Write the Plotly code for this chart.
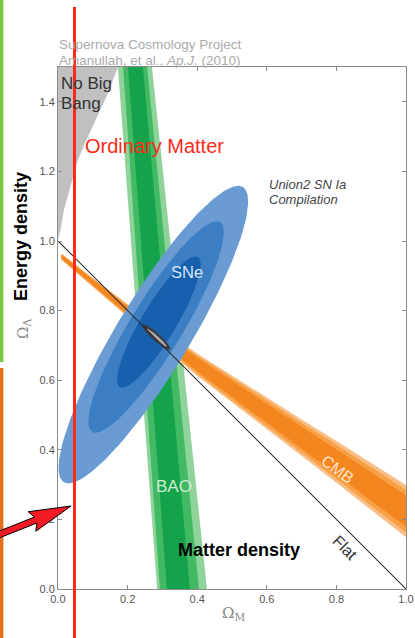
import numpy as np
import plotly.graph_objects as go

# ---------------- data ----------------
# "No Big Bang" boundary (Omega_M, Omega_Lambda)
nbb_om = [0.172, 0.144, 0.121, 0.098, 0.078, 0.057, 0.043, 0.029, 0.017, 0.009, 0.0]
nbb_ol = [1.5, 1.425, 1.376, 1.328, 1.282, 1.233, 1.184, 1.138, 1.089, 1.040, 1.003]

# BAO band edges (outer, middle, inner confidence levels)
bao_top_ol = 1.5
bao_bot_ol = 0.0
bao_top_left = [0.172, 0.187, 0.201]
bao_top_right = [0.270, 0.256, 0.244]
bao_bot_left = [0.285, 0.293, 0.313]
bao_bot_right = [0.428, 0.405, 0.379]
bao_colors = ["#8ED39A", "#42BA63", "#14A34B"]

# CMB band (centre line and vertical half-width of outer contour)
cmb_om = [0.01, 0.1, 0.2, 0.3, 0.4, 0.5, 0.6, 0.7, 0.8, 0.9, 1.0]
cmb_center = [0.955, 0.88, 0.80, 0.72, 0.645, 0.575, 0.505, 0.435, 0.365, 0.295, 0.224]
cmb_halfwidth = [0.009, 0.014, 0.019, 0.025, 0.032, 0.038, 0.045, 0.052, 0.060, 0.067, 0.075]
cmb_levels = [1.0, 0.82, 0.6]
cmb_colors = ["#F9BE86", "#F7A046", "#F4861F"]

# SNe confidence ellipses (outer, middle, inner)
sne_cx = [0.274, 0.282, 0.290]
sne_cy = [0.731, 0.753, 0.767]
sne_a = [0.496, 0.353, 0.218]
sne_b = [0.105, 0.075, 0.050]
sne_angle = [58.75, 58.6, 59.0]
sne_colors = ["#6A9BD2", "#3C7EC4", "#1660AE"]

# Combined constraint
comb_cx = [0.282, 0.284]
comb_cy = [0.724, 0.722]
comb_a = [0.054, 0.038]
comb_b = [0.011, 0.005]
comb_angle = [-42.0, -42.0]
comb_colors = ["#3A3A3A", "#ABABAB"]

# Flat universe line
flat_om = [0.0, 1.0]
flat_ol = [1.0, 0.0]

x_ticks = [0.0, 0.2, 0.4, 0.6, 0.8, 1.0]
y_ticks = [0.0, 0.2, 0.4, 0.6, 0.8, 1.0, 1.2, 1.4]

# ---------------- figure geometry ----------------
W, H = 415, 638
L, R, T, B = 58, 9, 67, 49
PW, PH = W - L - R, H - T - B


def px(x):
    return (x - L) / PW


def py(y):
    return (H - B - y) / PH


def ellipse(cx, cy, a, b, ang, n=240):
    t = np.linspace(0, 2 * np.pi, n)
    th = np.radians(ang)
    x = cx + a * np.cos(t) * np.cos(th) - b * np.sin(t) * np.sin(th)
    y = cy + a * np.cos(t) * np.sin(th) + b * np.sin(t) * np.cos(th)
    return x, y


fig = go.Figure()


def poly(x, y, color):
    fig.add_trace(go.Scatter(x=list(x), y=list(y), mode="lines", fill="toself",
                             fillcolor=color, line=dict(width=0, color=color),
                             hoverinfo="skip", showlegend=False))


# No big bang region
poly(nbb_om + [0.0], nbb_ol + [1.5], "#C0C0C0")

# BAO band
for i in range(3):
    poly([bao_top_left[i], bao_top_right[i], bao_bot_right[i], bao_bot_left[i]],
         [bao_top_ol, bao_top_ol, bao_bot_ol, bao_bot_ol], bao_colors[i])

# CMB band
cm = np.array(cmb_center)
hw = np.array(cmb_halfwidth)
for lev, col in zip(cmb_levels, cmb_colors):
    up = cm + lev * hw
    lo = cm - lev * hw
    poly(cmb_om + cmb_om[::-1], list(up) + list(lo[::-1]), col)

# SNe ellipses
for i in range(3):
    ex, ey = ellipse(sne_cx[i], sne_cy[i], sne_a[i], sne_b[i], sne_angle[i])
    poly(ex, ey, sne_colors[i])

# Combined
for i in range(2):
    ex, ey = ellipse(comb_cx[i], comb_cy[i], comb_a[i], comb_b[i], comb_angle[i])
    poly(ex, ey, comb_colors[i])

# Flat line
fig.add_trace(go.Scatter(x=flat_om, y=flat_ol, mode="lines",
                         line=dict(color="#2E2E2E", width=1.1),
                         hoverinfo="skip", showlegend=False))

FONT = "Liberation Sans, Arial, sans-serif"
SERIF = "DejaVu Serif, Liberation Serif, serif"

annotations = []


def text(s, x, y, size, color, xanchor="center", yanchor="middle", angle=0,
         family=FONT):
    annotations.append(dict(text=s, x=px(x), y=py(y), xref="paper", yref="paper",
                            xanchor=xanchor, yanchor=yanchor, showarrow=False,
                            textangle=angle, font=dict(size=size, color=color, family=family)))


text("Supernova Cosmology Project", 57, 44, 13.5, "#ABABAB", xanchor="left")
text("Amanullah, et al., <i>Ap.J.</i> (2010)", 57, 60, 13.5, "#ABABAB", xanchor="left")
text("No Big", 59, 83, 17, "#333333", xanchor="left")
text("Bang", 59, 103, 17, "#333333", xanchor="left")
text("Ordinary Matter", 83, 146, 20, "#FF2A1A", xanchor="left")
text("<i>Union2 SN Ia</i>", 267, 184, 13, "#444444", xanchor="left")
text("<i>Compilation</i>", 267, 199, 13, "#444444", xanchor="left")
text("SNe", 187, 272, 16.5, "#D6E4F4")
text("BAO", 174, 486, 17, "#D2ECD4")
text("CMB", 338, 469, 16, "#FFE4C8", angle=37)
text("Flat", 345, 547, 16, "#333333", angle=45)
text("<b>Matter density</b>", 239, 550, 18, "#000000")
text("<b>Energy density</b>", 21, 237, 18, "#000000", angle=-90)
text("Ω<sub>Λ</sub>", 23, 329, 15, "#8A8A8A", angle=-90, family=SERIF)
text("Ω<sub>M</sub>", 233, 613, 15, "#8A8A8A", family=SERIF)

fig.update_layout(annotations=annotations)

shapes = []
# left colour bars
shapes.append(dict(type="line", xref="paper", yref="paper", x0=px(1.6), x1=px(1.6),
                   y0=py(-3), y1=py(362), line=dict(color="#7AC943", width=3.6), layer="above"))
shapes.append(dict(type="line", xref="paper", yref="paper", x0=px(1.6), x1=px(1.6),
                   y0=py(368), y1=py(642), line=dict(color="#E56E1A", width=3.6), layer="above"))
# red vertical line
shapes.append(dict(type="line", xref="paper", yref="paper", x0=px(74.5), x1=px(74.5),
                   y0=py(7), y1=py(640), line=dict(color="#FF2A1A", width=3), layer="above"))

# red arrow (decoration)
tail = np.array([-2.0, 535.0])
tip = np.array([71.0, 506.0])
u = (tip - tail) / np.linalg.norm(tip - tail)
n = np.array([-u[1], u[0]])
hl, hw_, sw = 38.0, 10.5, 3.2
base = tip - hl * u
pts = [tail + sw * n, base + sw * n, base + hw_ * n - 4 * u, tip,
       base - hw_ * n - 4 * u, base - sw * n, tail - sw * n]
path = "M " + " L ".join(f"{px(p[0]):.5f},{py(p[1]):.5f}" for p in pts) + " Z"
shapes.append(dict(type="path", xref="paper", yref="paper", path=path,
                   fillcolor="#F21B24", line=dict(color="#000000", width=1), layer="above"))

fig.update_layout(shapes=shapes)

axis_common = dict(showgrid=False, zeroline=False, showline=True, linecolor="#8C8C8C",
                   linewidth=1, mirror="ticks", ticks="inside", ticklen=4, automargin=False,
                   tickcolor="#8C8C8C", tickfont=dict(size=11, color="#555555", family=FONT))
fig.update_xaxes(range=[0, 1], tickvals=x_ticks,
                 ticktext=[f"{v:.1f}" for v in x_ticks], **axis_common)
fig.update_yaxes(range=[0, 1.5], tickvals=y_ticks,
                 ticktext=[f"{v:.1f}" for v in y_ticks], **axis_common)

fig.update_layout(width=W, height=H, margin=dict(l=L, r=R, t=T, b=B, pad=0, autoexpand=False),
                  paper_bgcolor="white", plot_bgcolor="white", showlegend=False)

fig.write_html("out.html", config={"displayModeBar": False},
               post_script="document.body.style.margin='0';document.body.style.overflow='hidden';")
